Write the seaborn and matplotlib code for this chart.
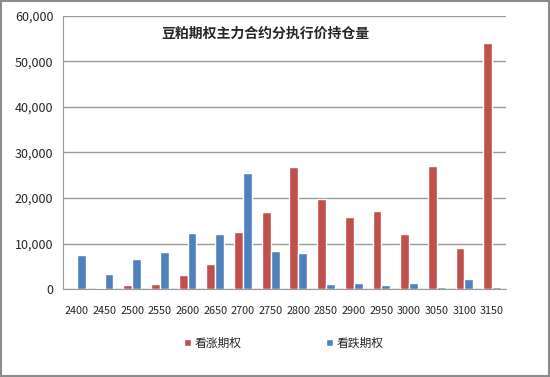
import pandas as pd
import seaborn as sns
import matplotlib.pyplot as plt
from matplotlib.patches import Rectangle
from matplotlib.ticker import FuncFormatter, FixedLocator

strikes = ['2400', '2450', '2500', '2550', '2600', '2650', '2700', '2750',
           '2800', '2850', '2900', '2950', '3000', '3050', '3100', '3150']
call_oi = [0, 300, 800, 1000, 3000, 5400, 12600, 17000,
           26800, 19800, 15900, 17200, 12000, 27000, 9000, 54000]
put_oi = [7500, 3300, 6700, 8100, 12200, 12000, 25600, 8400,
          8000, 1100, 1300, 800, 1300, 500, 2200, 400]
series = ['看涨期权', '看跌期权']

df = pd.DataFrame({
    'strike': strikes * 2,
    'oi': call_oi + put_oi,
    'type': [series[0]] * len(strikes) + [series[1]] * len(strikes),
})

sns.set_style('white')
plt.rcParams['font.family'] = ['Noto Sans CJK SC', 'DejaVu Sans']

fig = plt.figure(figsize=(5.5, 3.77), dpi=100)
ax = fig.add_axes([0.1145, 0.2334, 0.8055, 0.7242])
sns.barplot(data=df, x='strike', y='oi', hue='type', order=strikes,
            palette=['#C0504D', '#4F81BD'], width=0.64, saturation=1,
            ax=ax, legend=True)

ax.set_ylim(0, 60000)
ax.set_xlim(-0.5, len(strikes) - 0.5)
ax.set_yticks(range(0, 60001, 10000))
ax.yaxis.set_major_formatter(FuncFormatter(lambda v, p: f'{int(v):,}'))
ax.grid(axis='y', color='#9a9a9a', linewidth=1)
ax.set_axisbelow(True)
ax.set_xlabel('')
ax.set_ylabel('')
for s in ['top', 'right']:
    ax.spines[s].set_visible(False)
ax.spines['left'].set_color('#9a9a9a')
ax.spines['bottom'].set_color('#9a9a9a')
ax.tick_params(axis='y', length=0, labelsize=9, pad=7)
ax.tick_params(axis='x', which='major', length=0, labelsize=7.8, pad=12)
ax.xaxis.set_minor_locator(FixedLocator([i - 0.5 for i in range(len(strikes) + 1)]))
ax.tick_params(axis='x', which='minor', length=4, color='#9a9a9a', direction='out')

ax.text(0.456, 0.935, '豆粕期权主力合约分执行价持仓量', transform=ax.transAxes,
        ha='center', va='center', fontsize=10, fontweight='bold')

h, l = ax.get_legend_handles_labels()
ax.get_legend().remove()
fig.legend(h, l, loc='center', bbox_to_anchor=(0.516, 0.09), ncol=2,
           frameon=False, fontsize=8.5,
           handlelength=0.55, handleheight=0.55,
           handletextpad=0.3, columnspacing=7.2)

fig.patches.append(Rectangle((0.002, 0.003), 0.996, 0.994, transform=fig.transFigure,
                             fill=False, edgecolor='#8c8c8c', linewidth=1.5))

fig.savefig('out.png', dpi=100)
